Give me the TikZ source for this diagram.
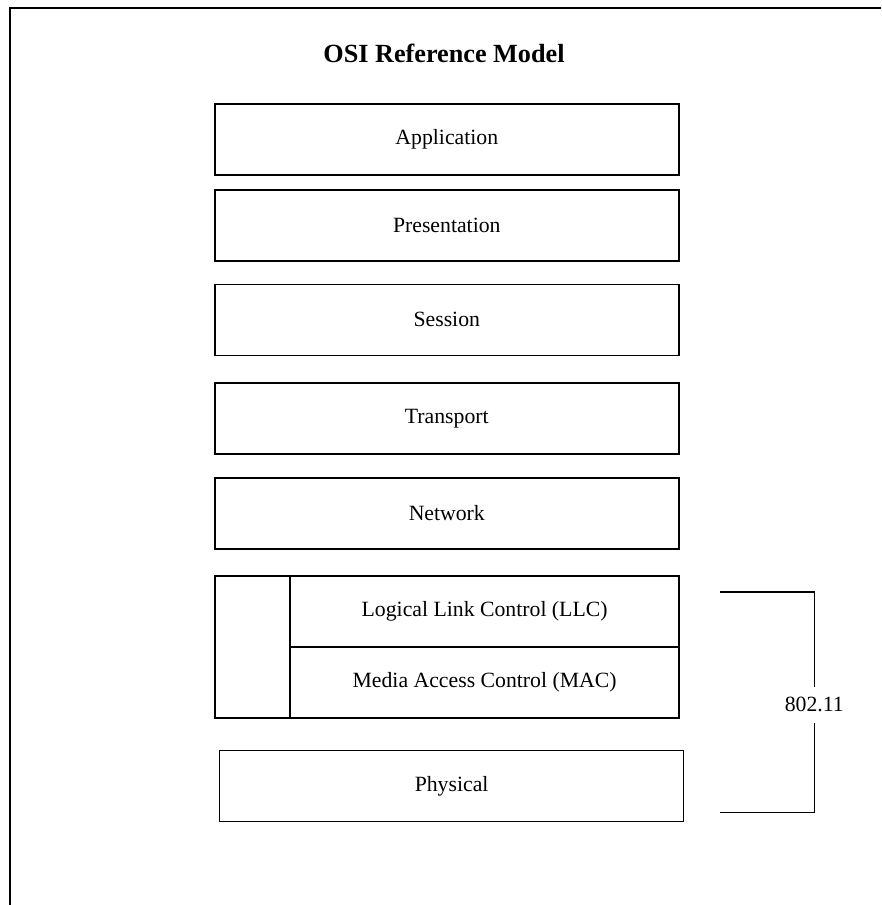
\documentclass[tikz,border=0pt]{standalone}
\usepackage{fontspec}
\setmainfont{Liberation Serif}
\begin{document}
\begin{tikzpicture}[x=1pt,y=-1pt,
  layerbox/.style={draw, line width=1.6pt, inner sep=0pt, minimum width=464pt, minimum height=71pt,
    font=\fontsize{21.75}{26}\selectfont},
  sublayer/.style={draw, line width=1.6pt, inner sep=0pt, minimum width=389pt, minimum height=71pt,
    font=\fontsize{21.75}{26}\selectfont},
  bracketline/.style={line width=1.3pt},
  titlefont/.style={font=\fontsize{26.2}{31}\selectfont\bfseries}]
\useasboundingbox (0,0) rectangle (881,905);
% frame
\draw[line width=1.6pt] (10,905) -- (10,8) -- (881,8);
% title
\node[titlefont] (title) at (444,53) {OSI Reference Model};
% layers
\node[layerbox] (app) at (446.8,139.3) {Application};
\node[layerbox] (pres) at (446.8,225.2) {Presentation};
\node[layerbox] (sess) at (446.8,319.8) {Session};
\node[layerbox] (trans) at (446.8,418.5) {Transport};
\node[layerbox] (net) at (446.8,513.2) {Network};
\node[sublayer] (llc) at (484.6,611.5) {Logical Link Control (LLC)};
\node[sublayer] (mac) at (484.6,682.5) {Media Access Control (MAC)};
\node[draw, line width=1.6pt, inner sep=0pt, minimum width=75pt, minimum height=142pt] (side) at (252.6,647) {};
\node[layerbox] (phys) at (451.6,785.8) {Physical};
% 802.11 bracket
\coordinate (btop) at (719.5,592);
\coordinate (bbot) at (719.5,812.7);
\node[font=\fontsize{21.75}{26}\selectfont, inner sep=0pt, minimum height=36pt] (std) at (814.3,704.8) {802.11};
\draw[bracketline] (btop) -| (std.north);
\draw[bracketline] (bbot) -| (std.south);
\end{tikzpicture}
\end{document}
